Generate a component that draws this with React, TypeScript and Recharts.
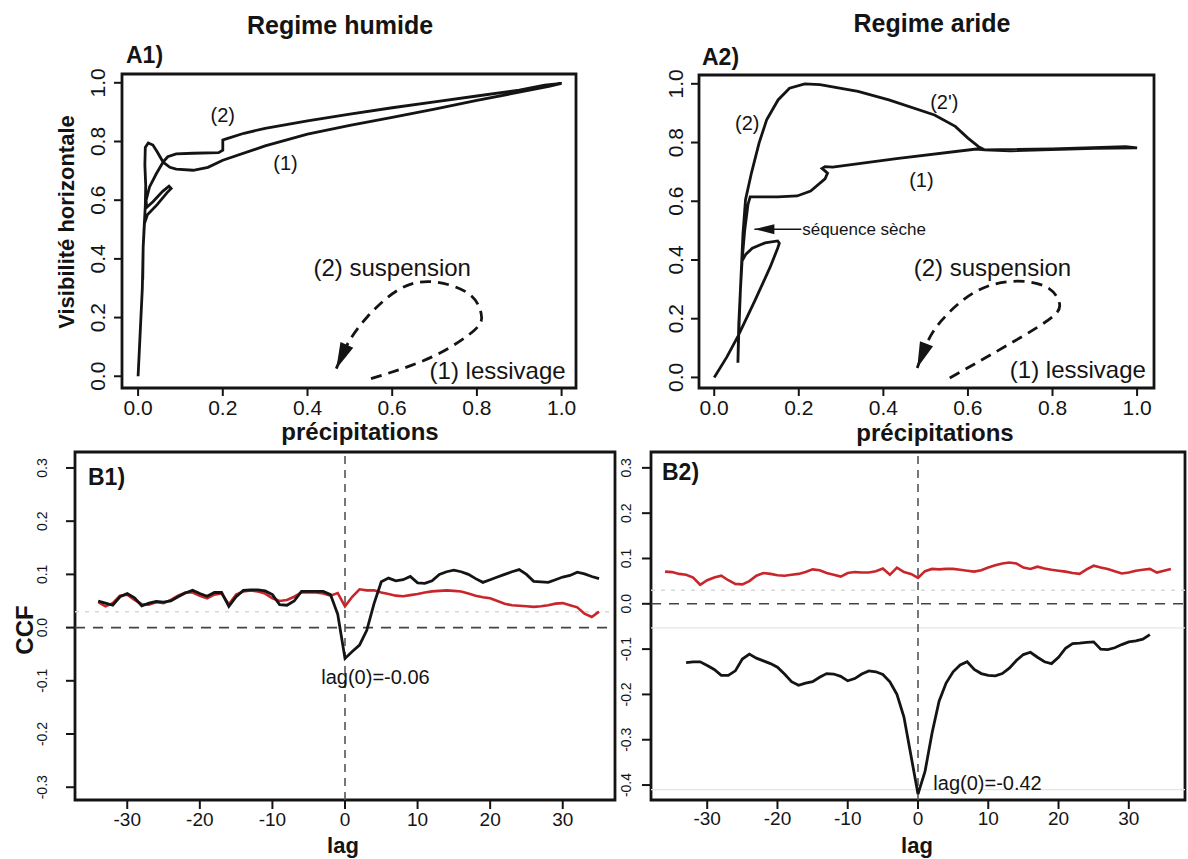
import React from "react";
import {
  LineChart,
  Line,
  XAxis,
  YAxis,
  ReferenceLine,
  ReferenceArea,
  ReferenceDot,
} from "recharts";

const FONT = '"Liberation Sans", Arial, Helvetica, sans-serif';
const INK = "#141414";
const RED = "#c8262b";

// A1 regime humide : trajectoire (précipitations, visibilité)
const a1Prec = [0.000, 0.005, 0.010, 0.012, 0.015, 0.022, 0.045, 0.068, 0.078, 0.073, 0.058, 0.035, 0.020, 0.019, 0.027, 0.043, 0.059, 0.075, 0.090, 0.130, 0.165, 0.200, 0.300, 0.400, 0.500, 0.600, 0.700, 0.800, 0.900, 0.970, 1.000, 0.960, 0.900, 0.800, 0.700, 0.600, 0.500, 0.400, 0.300, 0.250, 0.210, 0.200, 0.200, 0.190, 0.130, 0.090, 0.070, 0.059, 0.045, 0.035, 0.024, 0.017, 0.016, 0.018, 0.017, 0.014, 0.012, 0.011];
const a1Vis = [0.00, 0.15, 0.30, 0.44, 0.52, 0.55, 0.585, 0.625, 0.640, 0.648, 0.630, 0.595, 0.575, 0.600, 0.645, 0.690, 0.730, 0.712, 0.706, 0.702, 0.712, 0.736, 0.785, 0.825, 0.855, 0.882, 0.910, 0.940, 0.968, 0.988, 0.998, 0.992, 0.975, 0.955, 0.935, 0.915, 0.893, 0.870, 0.845, 0.828, 0.810, 0.805, 0.770, 0.762, 0.760, 0.758, 0.748, 0.730, 0.765, 0.788, 0.795, 0.780, 0.720, 0.650, 0.580, 0.500, 0.440, 0.330];

// A2 regime aride
const a2Prec = [0.000, 0.030, 0.056, 0.097, 0.133, 0.150, 0.154, 0.150, 0.120, 0.090, 0.075, 0.065, 0.062, 0.058, 0.056, 0.058, 0.062, 0.066, 0.072, 0.080, 0.085, 0.097, 0.150, 0.196, 0.228, 0.262, 0.268, 0.255, 0.262, 0.280, 0.431, 0.620, 0.640, 0.800, 0.973, 1.000, 0.900, 0.700, 0.640, 0.625, 0.600, 0.570, 0.521, 0.413, 0.340, 0.250, 0.214, 0.178, 0.151, 0.124, 0.106, 0.088, 0.074, 0.068, 0.065];
const a2Vis = [0.000, 0.070, 0.140, 0.264, 0.378, 0.440, 0.457, 0.465, 0.458, 0.440, 0.420, 0.395, 0.300, 0.180, 0.050, 0.150, 0.300, 0.400, 0.500, 0.590, 0.615, 0.615, 0.615, 0.618, 0.635, 0.676, 0.696, 0.712, 0.718, 0.716, 0.745, 0.778, 0.775, 0.778, 0.786, 0.782, 0.780, 0.772, 0.775, 0.786, 0.815, 0.855, 0.894, 0.945, 0.974, 0.997, 1.000, 0.985, 0.945, 0.877, 0.798, 0.696, 0.605, 0.490, 0.395];

// schéma de l'hystérésis (pointillés)
const loop1Prec = [0.550, 0.694, 0.794, 0.810, 0.780, 0.694, 0.613, 0.541, 0.495, 0.468];
const loop1Vis = [-0.008, 0.066, 0.157, 0.214, 0.282, 0.322, 0.293, 0.202, 0.111, 0.026];
const loop2Prec = [0.557, 0.702, 0.801, 0.815, 0.783, 0.702, 0.612, 0.539, 0.503, 0.480];
const loop2Vis = [-0.002, 0.117, 0.208, 0.259, 0.310, 0.327, 0.287, 0.196, 0.117, 0.032];
const secheArrowPrec = [0.095, 0.206];
const secheArrowVis = [0.505, 0.505];

const unitTicks = [0, 0.2, 0.4, 0.6, 0.8, 1.0];
const lagTicks = [-30, -20, -10, 0, 10, 20, 30];
const b1Ticks = [-0.3, -0.2, -0.1, 0, 0.1, 0.2, 0.3];
const b2Ticks = [-0.4, -0.3, -0.2, -0.1, 0, 0.1, 0.2, 0.3];

// B1 CCF regime humide
const b1Lags = [-34, -33, -32, -31, -30, -29, -28, -27, -26, -25, -24, -23, -22, -21, -20, -19, -18, -17, -16, -15, -14, -13, -12, -11, -10, -9, -8, -7, -6, -5, -4, -3, -2, -1, 0, 1, 2, 3, 4, 5, 6, 7, 8, 9, 10, 11, 12, 13, 14, 15, 16, 17, 18, 19, 20, 21, 22, 23, 24, 25, 26, 27, 28, 29, 30, 31, 32, 33, 34, 35];
const b1Black = [0.050, 0.046, 0.042, 0.058, 0.064, 0.056, 0.041, 0.046, 0.049, 0.048, 0.050, 0.058, 0.065, 0.070, 0.064, 0.059, 0.066, 0.066, 0.040, 0.058, 0.070, 0.071, 0.071, 0.069, 0.062, 0.043, 0.042, 0.050, 0.068, 0.068, 0.068, 0.068, 0.062, 0.025, -0.058, -0.045, -0.033, -0.005, 0.045, 0.086, 0.093, 0.088, 0.090, 0.096, 0.084, 0.083, 0.088, 0.100, 0.105, 0.108, 0.105, 0.100, 0.092, 0.085, 0.090, 0.095, 0.100, 0.105, 0.109, 0.100, 0.087, 0.086, 0.085, 0.090, 0.095, 0.098, 0.104, 0.101, 0.096, 0.092];
const b1Red = [0.048, 0.040, 0.046, 0.060, 0.062, 0.052, 0.044, 0.043, 0.048, 0.046, 0.052, 0.060, 0.066, 0.066, 0.060, 0.055, 0.062, 0.064, 0.044, 0.062, 0.068, 0.070, 0.068, 0.064, 0.055, 0.050, 0.052, 0.058, 0.066, 0.066, 0.066, 0.064, 0.060, 0.065, 0.040, 0.058, 0.072, 0.070, 0.070, 0.066, 0.063, 0.060, 0.059, 0.061, 0.063, 0.066, 0.068, 0.069, 0.070, 0.069, 0.068, 0.064, 0.060, 0.057, 0.055, 0.050, 0.045, 0.042, 0.041, 0.040, 0.039, 0.040, 0.042, 0.045, 0.046, 0.042, 0.038, 0.026, 0.020, 0.030];

// B2 CCF regime aride
const b2RedLags = [-36, -35, -34, -33, -32, -31, -30, -29, -28, -27, -26, -25, -24, -23, -22, -21, -20, -19, -18, -17, -16, -15, -14, -13, -12, -11, -10, -9, -8, -7, -6, -5, -4, -3, -2, -1, 0, 1, 2, 3, 4, 5, 6, 7, 8, 9, 10, 11, 12, 13, 14, 15, 16, 17, 18, 19, 20, 21, 22, 23, 24, 25, 26, 27, 28, 29, 30, 31, 32, 33, 34, 35, 36];
const b2Red = [0.071, 0.070, 0.066, 0.064, 0.058, 0.042, 0.052, 0.058, 0.062, 0.052, 0.044, 0.043, 0.050, 0.062, 0.068, 0.066, 0.063, 0.062, 0.064, 0.066, 0.070, 0.076, 0.074, 0.068, 0.064, 0.060, 0.068, 0.070, 0.069, 0.069, 0.072, 0.078, 0.064, 0.080, 0.070, 0.066, 0.057, 0.072, 0.077, 0.076, 0.077, 0.077, 0.075, 0.073, 0.071, 0.074, 0.080, 0.085, 0.089, 0.091, 0.089, 0.080, 0.077, 0.082, 0.078, 0.075, 0.073, 0.071, 0.068, 0.066, 0.076, 0.084, 0.080, 0.077, 0.072, 0.067, 0.069, 0.073, 0.075, 0.077, 0.069, 0.073, 0.077];
const b2BlackLags = [-33, -32, -31, -30, -29, -28, -27, -26, -25, -24, -23, -22, -21, -20, -19, -18, -17, -16, -15, -14, -13, -12, -11, -10, -9, -8, -7, -6, -5, -4, -3, -2, -1, 0, 1, 2, 3, 4, 5, 6, 7, 8, 9, 10, 11, 12, 13, 14, 15, 16, 17, 18, 19, 20, 21, 22, 23, 24, 25, 26, 27, 28, 29, 30, 31, 32, 33];
const b2Black = [-0.130, -0.128, -0.128, -0.136, -0.145, -0.158, -0.158, -0.148, -0.122, -0.111, -0.120, -0.126, -0.132, -0.140, -0.155, -0.172, -0.180, -0.175, -0.172, -0.162, -0.154, -0.155, -0.160, -0.170, -0.165, -0.155, -0.148, -0.150, -0.156, -0.172, -0.200, -0.250, -0.335, -0.420, -0.370, -0.285, -0.215, -0.175, -0.150, -0.135, -0.128, -0.145, -0.154, -0.158, -0.159, -0.154, -0.142, -0.125, -0.112, -0.107, -0.118, -0.128, -0.132, -0.118, -0.098, -0.088, -0.087, -0.085, -0.084, -0.100, -0.101, -0.097, -0.090, -0.084, -0.082, -0.078, -0.068];

const zip = (xs: number[], ys: number[]) => xs.map((x, i) => ({ x, y: ys[i] }));

// pointe de flèche dessinée sur un point de la série
function arrowDot(target: number, angleDeg: number, len: number, half: number) {
  return (p: any) => {
    const { cx, cy, index } = p;
    if (index !== target || cx == null) return <g key={`d${index}`} />;
    const a = (angleDeg * Math.PI) / 180;
    const bx = cx - len * Math.cos(a);
    const by = cy - len * Math.sin(a);
    const px = -Math.sin(a) * half;
    const py = Math.cos(a) * half;
    return (
      <path
        key={`d${index}`}
        d={`M${cx},${cy}L${bx + px},${by + py}L${bx - px},${by - py}Z`}
        fill={INK}
      />
    );
  };
}

function note(key: string, text: string, x: number, y: number, size: number, anchor = "middle") {
  return (
    <ReferenceDot
      key={key}
      x={x}
      y={y}
      r={0}
      fill="none"
      stroke="none"
      ifOverflow="visible"
      label={(p: any) => (
        <text
          x={p.viewBox.x}
          y={p.viewBox.y}
          textAnchor={anchor}
          dominantBaseline="central"
          fontSize={size}
          fontFamily={FONT}
          fill={INK}
        >
          {text}
        </text>
      )}
    />
  );
}

interface PanelProps {
  pos: { l: number; t: number; w: number; h: number };
  box: { l: number; t: number; r: number; b: number };
  xDomain: [number, number];
  yDomain: [number, number];
  xTicks: number[];
  yTicks: number[];
  xFmt: (v: number) => string;
  xFont: number;
  yFont: number;
  xGap: number;
  yGap: number;
  tick: number;
  children: React.ReactNode;
}

function Panel({ pos, box, xDomain, yDomain, xTicks, yTicks, xFmt, xFont, yFont, xGap, yGap, tick, children }: PanelProps) {
  const margin = {
    left: box.l - pos.l - 1,
    top: box.t - pos.t,
    right: pos.l + pos.w - box.r,
    bottom: pos.t + pos.h - box.b - 1,
  };
  return (
    <div style={{ position: "absolute", left: pos.l, top: pos.t }}>
      <LineChart width={pos.w} height={pos.h} margin={margin}>
        <XAxis
          type="number"
          dataKey="x"
          domain={xDomain}
          ticks={xTicks}
          interval={0}
          allowDataOverflow
          height={1}
          axisLine={false}
          tickSize={tick}
          tickLine={{ stroke: INK, strokeWidth: 2 }}
          tick={(p: any) => (
            <text
              x={p.x}
              y={p.y + xGap}
              textAnchor="middle"
              dominantBaseline="central"
              fontSize={xFont}
              fontFamily={FONT}
              fill={INK}
            >
              {xFmt(p.payload.value)}
            </text>
          )}
        />
        <YAxis
          type="number"
          domain={yDomain}
          ticks={yTicks}
          interval={0}
          allowDataOverflow
          width={1}
          axisLine={false}
          tickSize={tick}
          tickLine={{ stroke: INK, strokeWidth: 2 }}
          tick={(p: any) => {
            const cx = p.x - yGap;
            return (
              <text
                x={cx}
                y={p.y}
                transform={`rotate(-90 ${cx} ${p.y})`}
                textAnchor="middle"
                dominantBaseline="central"
                fontSize={yFont}
                fontFamily={FONT}
                fill={INK}
              >
                {p.payload.value.toFixed(1)}
              </text>
            );
          }}
        />
        <ReferenceArea
          x1={xDomain[0]}
          x2={xDomain[1]}
          y1={yDomain[0]}
          y2={yDomain[1]}
          fill="none"
          stroke={INK}
          strokeWidth={2.8}
          ifOverflow="visible"
        />
        {children}
      </LineChart>
    </div>
  );
}

const fmt1 = (v: number) => v.toFixed(1);
const fmtLag = (v: number) => String(v);

export default function App() {
  const txt = (x: number, y: number, s: string, size: number, opts: any = {}) => (
    <text
      x={x}
      y={y}
      fontSize={size}
      fontFamily={FONT}
      fontWeight={opts.bold === false ? 400 : 700}
      textAnchor={opts.anchor || "middle"}
      dominantBaseline="central"
      fill={INK}
      transform={opts.rot ? `rotate(-90 ${x} ${y})` : undefined}
    >
      {s}
    </text>
  );

  return (
    <div style={{ position: "absolute", left: 0, top: 0, width: 1188, height: 859, background: "#fff", overflow: "hidden" }}>
      <Panel
        pos={{ l: 0, t: 0, w: 600, h: 440 }}
        box={{ l: 122, t: 74, r: 576, b: 388 }}
        xDomain={[-0.038, 1.034]}
        yDomain={[-0.04, 1.03]}
        xTicks={unitTicks}
        yTicks={unitTicks}
        xFmt={fmt1}
        xFont={21}
        yFont={21}
        xGap={9}
        yGap={14}
        tick={8}
      >
        <Line data={zip(a1Prec, a1Vis)} dataKey="y" stroke={INK} strokeWidth={2.8} dot={false} isAnimationActive={false} />
        <Line
          data={zip(loop1Prec, loop1Vis)}
          dataKey="y"
          type="natural"
          stroke={INK}
          strokeWidth={2.8}
          strokeDasharray="11 7"
          dot={arrowDot(loop1Prec.length - 1, 114, 26, 7)}
          isAnimationActive={false}
        />
        {note("a1n2", "(2)", 0.2, 0.89, 20)}
        {note("a1n1", "(1)", 0.348, 0.726, 20)}
        {note("a1s", "(2) suspension", 0.6, 0.372, 24)}
        {note("a1l", "(1) lessivage", 0.849, 0.02, 24)}
      </Panel>

      <Panel
        pos={{ l: 600, t: 0, w: 588, h: 440 }}
        box={{ l: 699, t: 75, r: 1154, b: 388 }}
        xDomain={[-0.036, 1.04]}
        yDomain={[-0.036, 1.03]}
        xTicks={unitTicks}
        yTicks={unitTicks}
        xFmt={fmt1}
        xFont={21}
        yFont={21}
        xGap={9}
        yGap={13}
        tick={8}
      >
        <Line data={zip(a2Prec, a2Vis)} dataKey="y" stroke={INK} strokeWidth={2.8} dot={false} isAnimationActive={false} />
        <Line
          data={zip(loop2Prec, loop2Vis)}
          dataKey="y"
          type="natural"
          stroke={INK}
          strokeWidth={2.8}
          strokeDasharray="11 7"
          dot={arrowDot(loop2Prec.length - 1, 111, 26, 7)}
          isAnimationActive={false}
        />
        <Line
          data={zip(secheArrowPrec, secheArrowVis)}
          dataKey="y"
          stroke={INK}
          strokeWidth={1.5}
          dot={arrowDot(0, 180, 20, 5)}
          isAnimationActive={false}
        />
        {note("a2n2", "(2)", 0.078, 0.867, 20)}
        {note("a2n2p", "(2')", 0.544, 0.938, 20)}
        {note("a2n1", "(1)", 0.49, 0.673, 20)}
        {note("a2sec", "séquence sèche", 0.208, 0.505, 17, "start")}
        {note("a2s", "(2) suspension", 0.658, 0.376, 24)}
        {note("a2l", "(1) lessivage", 0.86, 0.026, 24)}
      </Panel>

      <Panel
        pos={{ l: 0, t: 440, w: 622, h: 419 }}
        box={{ l: 75, t: 452, r: 615, b: 800 }}
        xDomain={[-37.2, 37.2]}
        yDomain={[-0.324, 0.33]}
        xTicks={lagTicks}
        yTicks={b1Ticks}
        xFmt={fmtLag}
        xFont={19}
        yFont={14}
        xGap={8}
        yGap={22}
        tick={9}
      >
        <ReferenceLine y={0.03} stroke="#d8d8d8" strokeDasharray="4 6" strokeWidth={1.5} />
        <ReferenceLine y={0} stroke="#444" strokeDasharray="10 8" strokeWidth={1.6} />
        <ReferenceLine x={0} stroke="#555" strokeDasharray="8 6" strokeWidth={1.6} />
        <Line data={zip(b1Lags, b1Red)} dataKey="y" stroke={RED} strokeWidth={2.6} dot={false} isAnimationActive={false} />
        <Line data={zip(b1Lags, b1Black)} dataKey="y" stroke={INK} strokeWidth={2.8} dot={false} isAnimationActive={false} />
        {note("b1l", "lag(0)=-0.06", 4.2, -0.092, 20)}
      </Panel>

      <Panel
        pos={{ l: 600, t: 440, w: 588, h: 419 }}
        box={{ l: 651, t: 452, r: 1185, b: 800 }}
        xDomain={[-38, 38]}
        yDomain={[-0.433, 0.335]}
        xTicks={lagTicks}
        yTicks={b2Ticks}
        xFmt={fmtLag}
        xFont={19}
        yFont={14}
        xGap={7}
        yGap={14}
        tick={9}
      >
        <ReferenceLine y={0.03} stroke="#d8d8d8" strokeDasharray="4 6" strokeWidth={1.5} />
        <ReferenceLine y={-0.053} stroke="#e4e4e4" strokeWidth={1.2} />
        <ReferenceLine y={-0.41} stroke="#e4e4e4" strokeWidth={1.2} />
        <ReferenceLine y={0} stroke="#444" strokeDasharray="10 8" strokeWidth={1.6} />
        <ReferenceLine x={0} stroke="#555" strokeDasharray="8 6" strokeWidth={1.6} />
        <Line data={zip(b2RedLags, b2Red)} dataKey="y" stroke={RED} strokeWidth={2.6} dot={false} isAnimationActive={false} />
        <Line data={zip(b2BlackLags, b2Black)} dataKey="y" stroke={INK} strokeWidth={2.8} dot={false} isAnimationActive={false} />
        {note("b2l", "lag(0)=-0.42", 9.9, -0.395, 20)}
      </Panel>

      <svg width={1188} height={859} style={{ position: "absolute", left: 0, top: 0, pointerEvents: "none" }}>
        {txt(340, 25, "Regime humide", 25)}
        {txt(932, 23, "Regime aride", 25)}
        {txt(126, 55, "A1)", 23, { anchor: "start" })}
        {txt(702, 57, "A2)", 23, { anchor: "start" })}
        {txt(66, 222, "Visibilité horizontale", 22, { rot: true })}
        {txt(360, 431, "précipitations", 24)}
        {txt(935, 432, "précipitations", 24)}
        {txt(88, 477, "B1)", 23, { anchor: "start" })}
        {txt(662, 472, "B2)", 23, { anchor: "start" })}
        {txt(24, 630, "CCF", 24, { rot: true })}
        {txt(343, 845, "lag", 22)}
        {txt(917, 845, "lag", 22)}
      </svg>
    </div>
  );
}
